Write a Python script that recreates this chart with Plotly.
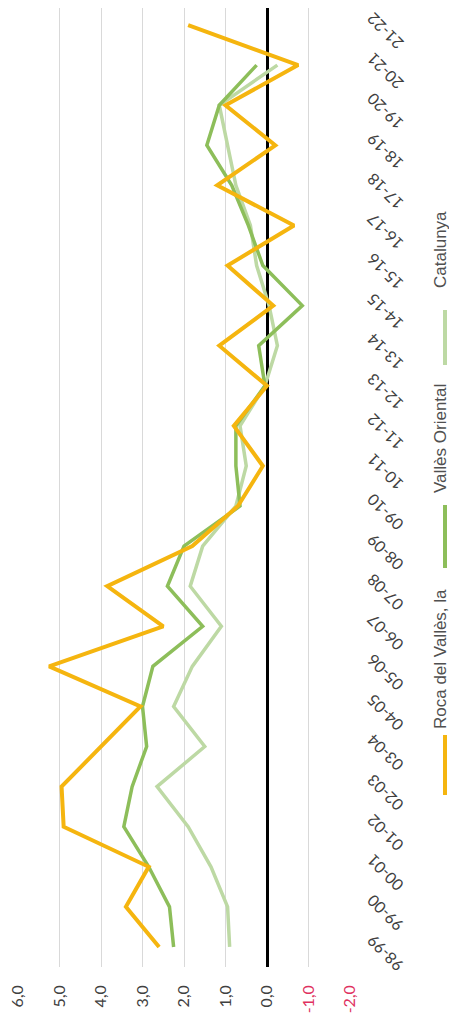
import plotly.graph_objects as go

categories = ['98-99', '99-00', '00-01', '01-02', '02-03', '03-04', '04-05', '05-06',
              '06-07', '07-08', '08-09', '09-10', '10-11', '11-12', '12-13', '13-14',
              '14-15', '15-16', '16-17', '17-18', '18-19', '19-20', '20-21', '21-22']

roca = [2.6, 3.4, 2.85, 4.9, 4.95, 4.0, 3.05, 5.25, 2.5, 3.85, 1.8, 0.7,
        0.1, 0.8, 0.0, 1.15, -0.15, 0.95, -0.65, 1.2, -0.2, 1.0, -0.75, 1.9]
valles = [2.25, 2.35, 2.85, 3.45, 3.25, 2.9, 3.0, 2.75, 1.55, 2.4, 2.0, 0.65,
          0.75, 0.75, 0.05, 0.2, -0.85, 0.1, 0.45, 0.85, 1.45, 1.15, 0.25, None]
catalunya = [0.9, 0.95, 1.35, 1.9, 2.65, 1.5, 2.25, 1.8, 1.1, 1.85, 1.55, 0.75,
             0.5, 0.65, 0.05, -0.25, -0.05, 0.25, 0.4, 0.75, 0.95, 1.15, -0.25, None]

value_ticks = [6, 5, 4, 3, 2, 1, 0, -1, -2]
value_labels = ['6,0', '5,0', '4,0', '3,0', '2,0', '1,0', '0,0', '-1,0', '-2,0']

series_names = ['Roca del Vallès, la', 'Vallès Oriental', 'Catalunya']
series_colors = ['#F5B50F', '#8DBE5A', '#BDD9A4']

idx = list(range(len(categories)))

fig = go.Figure()
for name, vals, col, w in [(series_names[2], catalunya, series_colors[2], 3.5),
                           (series_names[1], valles, series_colors[1], 3.5),
                           (series_names[0], roca, series_colors[0], 4)]:
    fig.add_trace(go.Scatter(x=vals, y=idx, mode='lines', name=name,
                             line=dict(color=col, width=w), showlegend=False))

neg_color = '#E0315F'
ticktext = [(f"<span style='color:{neg_color}'>{t}</span>" if v < 0 else t)
            for v, t in zip(value_ticks, value_labels)]

# the page body adds an 8px offset: figure is sized so it ends at the window edge
OFF = 8
fig.update_layout(
    width=457 - OFF, height=1025 - OFF,
    margin=dict(l=18 - OFF, r=107, t=0, b=58),
    paper_bgcolor='white', plot_bgcolor='white',
    font=dict(family='Lato', size=15, color='#404040'),
    xaxis=dict(range=[6, -2], tickvals=value_ticks, ticktext=ticktext,
               tickangle=-90, showgrid=True, gridcolor='#D9D9D9', gridwidth=1,
               zeroline=True, zerolinecolor='black', zerolinewidth=3,
               showline=False, ticks='', ticklabelstandoff=14, automargin=False,
               ticklabeloverflow='allow',
               tickfont=dict(family='Lato', size=16, color='#404040')),
    yaxis=dict(range=[-0.5, len(categories) - 0.575], tickvals=idx, ticktext=categories,
               side='right', tickangle=-135, showgrid=False, zeroline=False,
               showline=False, ticks='', ticklabelstandoff=48, ticklabelshift=25,
               automargin=False, ticklabeloverflow='allow',
               tickfont=dict(family='Lato', size=16, color='#404040')),
)

# helpers: screen pixel -> paper coordinates
def py(pix):
    return (967 - pix) / (967 - 8)
def px(pix):
    return (pix - 18) / (350 - 18)

legend_items = [
    (series_names[0], series_colors[0], 735, 795, 659),
    (series_names[1], series_colors[1], 505, 568, 439),
    (series_names[2], series_colors[2], 310, 365, 250),
]
for name, col, s0, s1, tc in legend_items:
    fig.add_shape(type='line', xref='paper', yref='paper',
                  x0=px(445), x1=px(445), y0=py(s0), y1=py(s1),
                  line=dict(color=col, width=4))
    fig.add_annotation(text=name, xref='paper', yref='paper', x=px(440), y=py(tc),
                       textangle=-90, showarrow=False,
                       font=dict(family='Liberation Sans', size=17, color='#505050'),
                       xanchor='center', yanchor='middle')

fig.write_html('out.html')
